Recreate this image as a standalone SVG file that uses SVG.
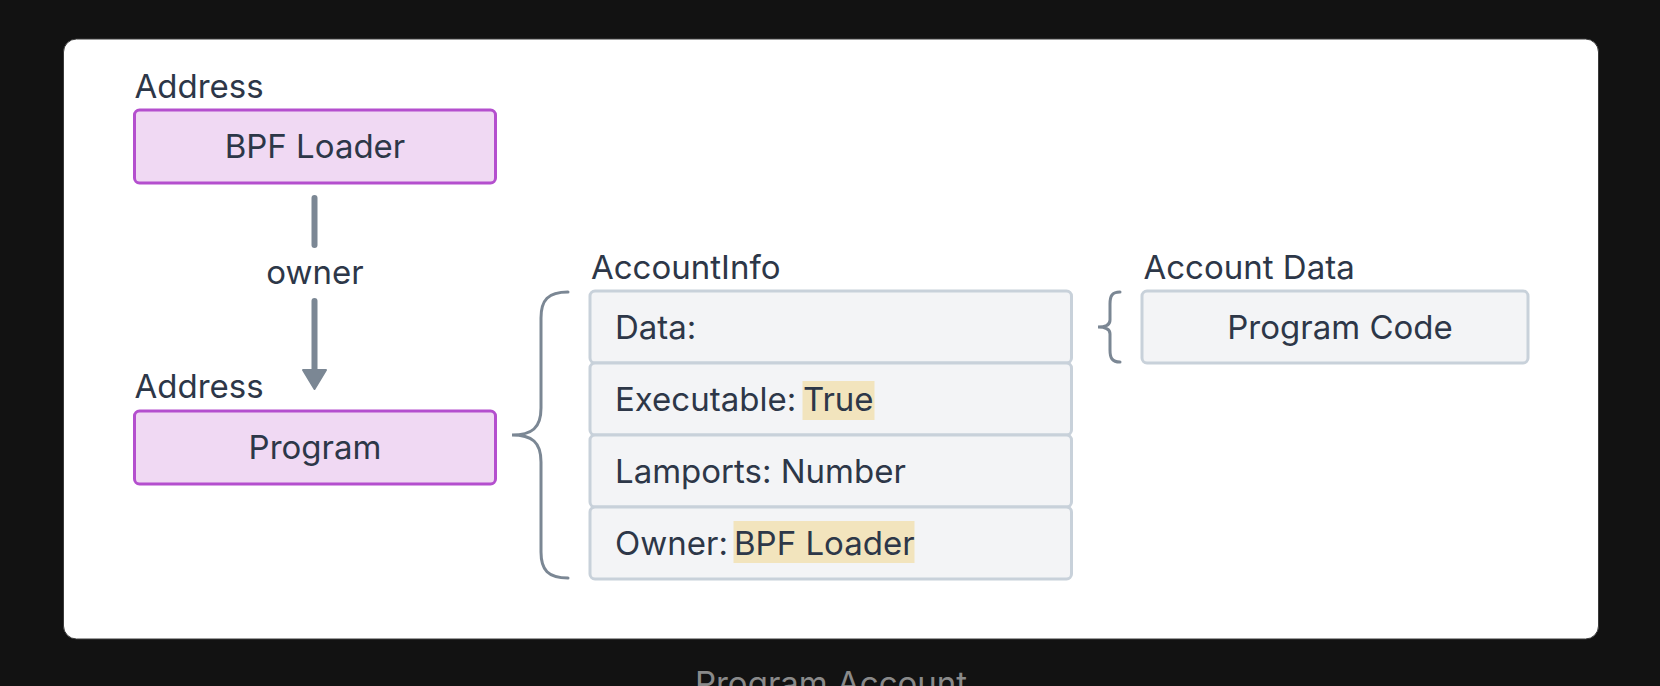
<svg xmlns="http://www.w3.org/2000/svg" width="1660" height="686" viewBox="0 0 1660 686">
<style>
text{font-family:Inter,"Noto Sans",sans-serif;font-size:33px;fill:#2d3748}
.addr rect{fill:#f0d9f3;stroke:#b44fce;stroke-width:3}
.row rect.b{fill:#f3f4f6;stroke:#c8d1da;stroke-width:3}
.hl{fill:#f2e4bd}
.c{text-anchor:middle}
.br{fill:none;stroke:#7b8794;stroke-width:3;stroke-linecap:round}
</style>
<rect width="1660" height="686" fill="#121212"/>
<rect x="63.5" y="39" width="1535" height="600" rx="13" fill="#ffffff" stroke="#3a3a3a" stroke-width="1"/>
<text x="831" y="695" class="c" style="fill:#8a8a8a">Program Account</text>
<g id="bpf" class="addr">
<text x="134.5" y="98">Address</text>
<rect x="134.5" y="110" width="361" height="73" rx="5"/>
<text x="315" y="158" class="c">BPF Loader</text>
</g>
<g id="program" class="addr">
<text x="134.5" y="398">Address</text>
<rect x="134.5" y="411" width="361" height="73" rx="5"/>
<text x="315" y="459" class="c">Program</text>
</g>
<g id="connectors">
<line x1="314.5" y1="198" x2="314.5" y2="245" stroke="#7b8794" stroke-width="6" stroke-linecap="round"/>
<text x="315" y="284" class="c">owner</text>
<line x1="314.5" y1="301" x2="314.5" y2="372" stroke="#7b8794" stroke-width="6" stroke-linecap="round"/>
<path d="M303 370 L326 370 L314.5 389 Z" fill="#7b8794" stroke="#7b8794" stroke-width="2" stroke-linejoin="round"/>
<path class="br" d="M568 292 C548 292 541 300 541 318 L541 408 C541 428 532 435 512 435 C532 435 541 442 541 462 L541 552 C541 570 548 578 568 578"/>
<path class="br" d="M1120 292 C1112 292 1110 296 1110 304 L1110 320 C1110 325 1106 327 1098 327 C1106 327 1110 329 1110 334 L1110 350 C1110 358 1112 362 1120 362"/>
</g>
<g id="accountinfo">
<text x="591" y="279">AccountInfo</text>
<g class="row"><rect class="b" x="590" y="291" width="481.5" height="72" rx="5"/><text x="615" y="339">Data:</text></g>
<g class="row"><rect class="b" x="590" y="363" width="481.5" height="72" rx="5"/><rect class="hl" x="802.5" y="381" width="72" height="39"/><text x="615" y="411">Executable:<tspan x="803">True</tspan></text></g>
<g class="row"><rect class="b" x="590" y="435" width="481.5" height="72" rx="5"/><text x="615" y="483">Lamports: Number</text></g>
<g class="row"><rect class="b" x="590" y="507" width="481.5" height="72" rx="5"/><rect class="hl" x="733.5" y="521" width="181" height="42"/><text x="615" y="555">Owner:<tspan x="734">BPF Loader</tspan></text></g>
</g>
<g id="accountdata" class="row">
<text x="1143.5" y="279">Account Data</text>
<rect class="b" x="1142" y="291" width="386" height="72" rx="5"/>
<text x="1340" y="339" class="c">Program Code</text>
</g>
</svg>
